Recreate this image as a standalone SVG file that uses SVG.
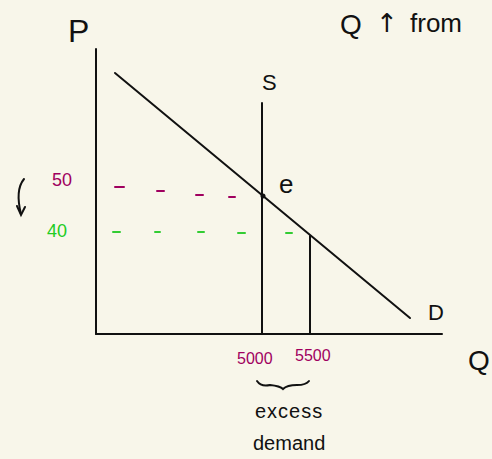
<svg xmlns="http://www.w3.org/2000/svg" width="492" height="459" viewBox="0 0 492 459">
<style>
.ln{stroke:#111;stroke-width:2;fill:none;stroke-linecap:round}
.t{font-family:"Liberation Sans",Arial,sans-serif;fill:#111}
.mag{fill:#a0005f}
.grn{fill:#22cc22}
.dm{stroke:#a0005f;stroke-width:2;stroke-linecap:round}
.dg{stroke:#33cc33;stroke-width:2;stroke-linecap:round}
</style>
<rect width="492" height="459" fill="#f8f6ea"/>
<g id="axes">
<line class="ln" x1="96" y1="49" x2="96" y2="334"/>
<line class="ln" x1="96" y1="334" x2="442" y2="334"/>
<text class="t" x="68" y="42" font-size="32" font-weight="300">P</text>
<text class="t" x="468" y="370" font-size="28" font-weight="300">Q</text>
</g>
<g id="connectors">
<line class="ln" x1="115" y1="73" x2="410" y2="318"/>
<line class="ln" x1="262" y1="103" x2="262" y2="334"/>
<line class="ln" x1="310" y1="236" x2="310" y2="334"/>
<g id="dashes-50">
<line class="dm" x1="115" y1="187" x2="124" y2="187"/>
<line class="dm" x1="157" y1="191" x2="164" y2="191"/>
<line class="dm" x1="196" y1="195" x2="203" y2="195"/>
<line class="dm" x1="229" y1="197" x2="235" y2="197"/>
</g>
<g id="dashes-40">
<line class="dg" x1="113" y1="232" x2="120" y2="232"/>
<line class="dg" x1="155" y1="232" x2="160" y2="232"/>
<line class="dg" x1="198" y1="232" x2="204" y2="232"/>
<line class="dg" x1="238" y1="233" x2="245" y2="233"/>
<line class="dg" x1="286" y1="233" x2="292" y2="233"/>
</g>
<path class="ln" d="M24 179 Q15 190 21 214" stroke-width="1.8"/>
<path class="ln" d="M17 206 L21 215 L25 207" stroke-width="1.8"/>
<path class="ln" d="M257 381 Q261 387 270 385 Q280 386 283 389 Q287 385 297 385 Q306 385 309 381" stroke-width="1.8"/>
</g>
<g id="node-e">
<circle cx="263" cy="196" r="2.5" fill="#111"/>
<text class="t" x="279" y="193" font-size="26" font-weight="300">e</text>
</g>
<g id="node-S"><text class="t" x="262" y="90" font-size="22" font-weight="300">S</text></g>
<g id="node-D"><text class="t" x="428" y="320" font-size="22" font-weight="300">D</text></g>
<g id="labels">
<text class="t mag" x="52" y="186" font-size="18">50</text>
<text class="t grn" x="47" y="237" font-size="18">40</text>
<text class="t mag" x="237" y="364" font-size="16">5000</text>
<text class="t mag" x="295" y="361" font-size="16">5500</text>
<text class="t" x="255" y="418" font-size="20" font-weight="300" letter-spacing="1">excess</text>
<text class="t" x="253" y="450" font-size="20" font-weight="300">demand</text>
<text class="t" x="340" y="34" font-size="28" font-weight="300">Q</text>
<text x="376" y="32" font-size="26" font-family="'DejaVu Sans',sans-serif" fill="#111">↑</text>
<text class="t" x="410" y="32" font-size="26" font-weight="300">from</text>
</g>
</svg>
